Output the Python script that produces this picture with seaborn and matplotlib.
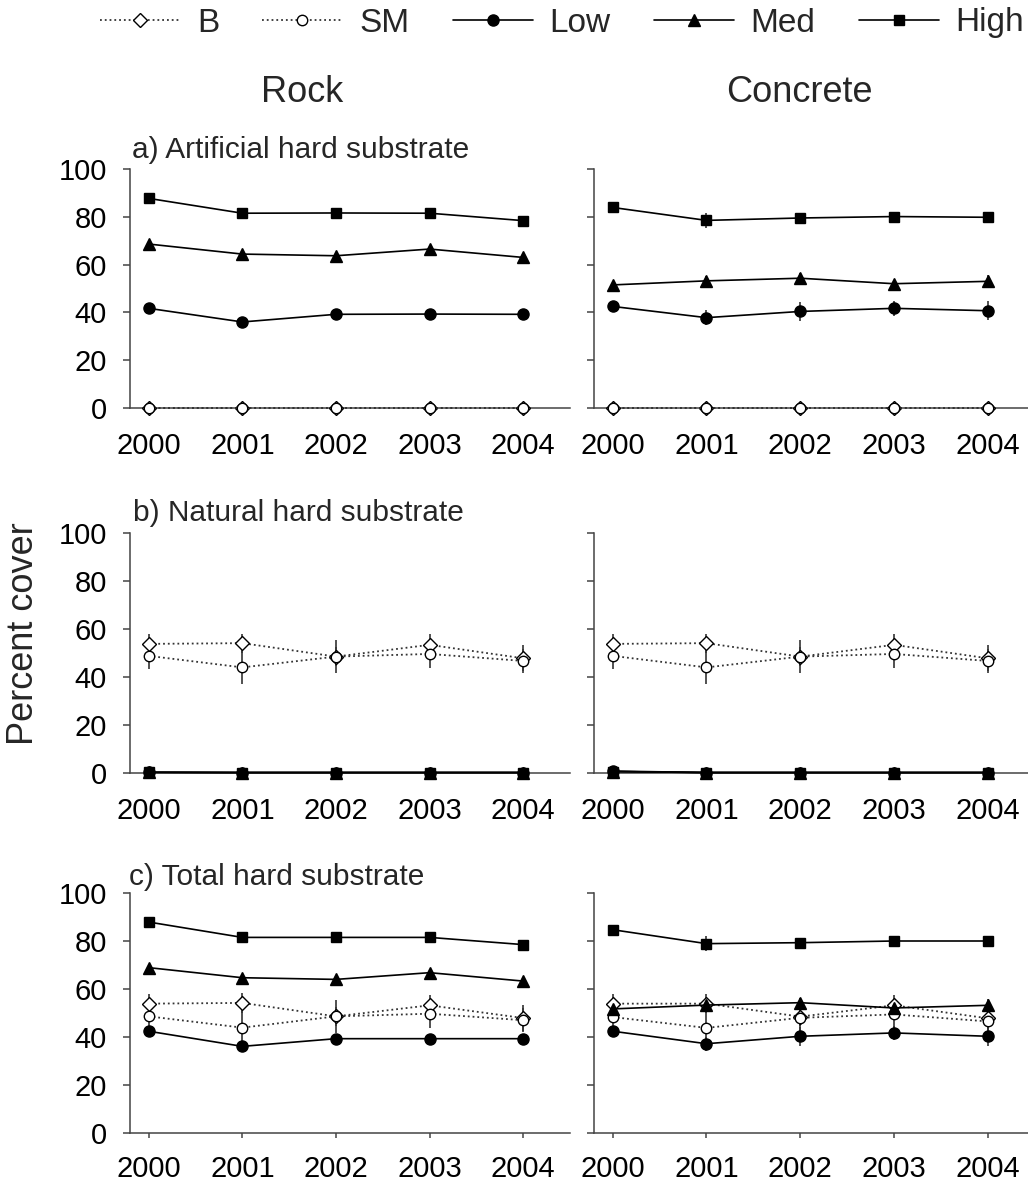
import matplotlib
matplotlib.use("Agg")
import matplotlib.pyplot as plt
import seaborn as sns

# ---- data: mean percent cover (and SE) per year ----
years = [2000, 2001, 2002, 2003, 2004]
series_names = ["B", "SM", "Low", "Med", "High"]

# a) Artificial hard substrate
rock_art_B = [0, 0, 0, 0, 0]
rock_art_SM = [0, 0, 0, 0, 0]
rock_art_Low = [41.7, 36.0, 39.2, 39.3, 39.2]
rock_art_Med = [68.6, 64.4, 63.7, 66.5, 63.0]
rock_art_High = [87.7, 81.5, 81.6, 81.5, 78.4]
rock_art_Low_se = [1.0, 1.0, 1.0, 1.0, 1.0]
rock_art_Med_se = [1.5, 1.2, 1.2, 1.2, 1.5]
rock_art_High_se = [1.0, 1.0, 1.0, 1.0, 1.5]

conc_art_B = [0, 0, 0, 0, 0]
conc_art_SM = [0, 0, 0, 0, 0]
conc_art_Low = [42.5, 37.8, 40.4, 41.7, 40.7]
conc_art_Med = [51.5, 53.2, 54.3, 52.0, 53.0]
conc_art_High = [83.9, 78.5, 79.5, 80.1, 79.8]
conc_art_Low_se = [1.5, 3.0, 4.0, 3.0, 4.0]
conc_art_Med_se = [1.5, 2.0, 2.0, 1.5, 2.5]
conc_art_High_se = [1.2, 3.0, 1.5, 1.5, 1.2]

# b) Natural hard substrate
rock_nat_B = [53.8, 54.1, 48.5, 53.4, 47.8]
rock_nat_SM = [48.8, 44.0, 48.5, 49.6, 46.7]
rock_nat_Low = [0.3, 0.2, 0.2, 0.2, 0.2]
rock_nat_Med = [0.3, 0.2, 0.2, 0.2, 0.2]
rock_nat_High = [0.3, 0.2, 0.2, 0.2, 0.2]
nat_B_se = [4.0, 4.0, 4.0, 4.5, 5.5]
nat_SM_se = [5.5, 7.0, 7.0, 6.0, 5.0]

conc_nat_B = [53.8, 54.1, 48.5, 53.4, 47.8]
conc_nat_SM = [48.8, 44.0, 48.5, 49.6, 46.7]
conc_nat_Low = [0.8, 0.2, 0.2, 0.2, 0.2]
conc_nat_Med = [0.6, 0.2, 0.2, 0.2, 0.2]
conc_nat_High = [0.6, 0.2, 0.2, 0.2, 0.2]

# c) Total hard substrate
rock_tot_B = [53.9, 54.2, 48.6, 53.2, 47.9]
rock_tot_SM = [48.6, 43.9, 48.6, 49.7, 47.0]
rock_tot_Low = [42.4, 36.1, 39.3, 39.3, 39.3]
rock_tot_Med = [68.9, 64.7, 64.0, 66.8, 63.3]
rock_tot_High = [87.9, 81.5, 81.5, 81.5, 78.5]
rock_tot_Low_se = [1.5, 1.5, 1.5, 1.5, 1.5]
rock_tot_Med_se = [1.5, 1.2, 1.2, 1.2, 1.5]
rock_tot_High_se = [1.0, 1.0, 1.0, 1.0, 1.8]

conc_tot_B = [53.9, 53.9, 48.5, 53.2, 47.8]
conc_tot_SM = [48.3, 43.8, 48.0, 49.4, 46.5]
conc_tot_Low = [42.4, 37.2, 40.3, 41.7, 40.3]
conc_tot_Med = [51.7, 53.3, 54.3, 52.1, 53.2]
conc_tot_High = [84.7, 78.9, 79.3, 80.0, 80.0]
conc_tot_Low_se = [2.0, 3.0, 4.0, 3.0, 4.0]
conc_tot_Med_se = [2.0, 3.0, 2.0, 2.5, 2.5]
conc_tot_High_se = [2.0, 3.0, 1.5, 1.5, 1.5]

zero_se = [0, 0, 0, 0, 0]
small_se = [0.3, 0.3, 0.3, 0.3, 0.3]

panels = {
    ("art", "rock"): [(rock_art_B, zero_se), (rock_art_SM, zero_se), (rock_art_Low, rock_art_Low_se),
                      (rock_art_Med, rock_art_Med_se), (rock_art_High, rock_art_High_se)],
    ("art", "conc"): [(conc_art_B, zero_se), (conc_art_SM, zero_se), (conc_art_Low, conc_art_Low_se),
                      (conc_art_Med, conc_art_Med_se), (conc_art_High, conc_art_High_se)],
    ("nat", "rock"): [(rock_nat_B, nat_B_se), (rock_nat_SM, nat_SM_se), (rock_nat_Low, small_se),
                      (rock_nat_Med, small_se), (rock_nat_High, small_se)],
    ("nat", "conc"): [(conc_nat_B, nat_B_se), (conc_nat_SM, nat_SM_se), (conc_nat_Low, small_se),
                      (conc_nat_Med, small_se), (conc_nat_High, small_se)],
    ("tot", "rock"): [(rock_tot_B, nat_B_se), (rock_tot_SM, nat_SM_se), (rock_tot_Low, rock_tot_Low_se),
                      (rock_tot_Med, rock_tot_Med_se), (rock_tot_High, rock_tot_High_se)],
    ("tot", "conc"): [(conc_tot_B, nat_B_se), (conc_tot_SM, nat_SM_se), (conc_tot_Low, conc_tot_Low_se),
                      (conc_tot_Med, conc_tot_Med_se), (conc_tot_High, conc_tot_High_se)],
}

row_keys = ["art", "nat", "tot"]
row_titles = ["a) Artificial hard substrate", "b) Natural hard substrate", "c) Total hard substrate"]
col_keys = ["rock", "conc"]
col_titles = ["Rock", "Concrete"]

# line / marker styles for each treatment
styles = {
    "B":    dict(marker="D", linestyle=":", color="#333333", markerfacecolor="white", markersize=7.0, linewidth=1.3),
    "SM":   dict(marker="o", linestyle=":", color="#333333", markerfacecolor="white", markersize=7.5, linewidth=1.3),
    "Low":  dict(marker="o", linestyle="-", color="black", markerfacecolor="black", markersize=8.0, linewidth=1.2),
    "Med":  dict(marker="^", linestyle="-", color="black", markerfacecolor="black", markersize=8.0, linewidth=1.2),
    "High": dict(marker="s", linestyle="-", color="black", markerfacecolor="black", markersize=7.0, linewidth=1.2),
}

sns.set_style("ticks")
plt.rcParams["font.family"] = ["Liberation Sans", "DejaVu Sans"]
plt.rcParams["axes.edgecolor"] = "#444444"
plt.rcParams["xtick.color"] = "#444444"
plt.rcParams["ytick.color"] = "#444444"
plt.rcParams["xtick.labelcolor"] = "black"
plt.rcParams["ytick.labelcolor"] = "black"

W, H = 1028, 1186
fig = plt.figure(figsize=(W / 100, H / 100), dpi=100)


def fx(px):
    return px / W


def fy(py):
    return 1 - py / H


row_px = [(169, 408), (533, 773), (893, 1133)]
col_px = [(130, 570, 2004.50), (594, 1028, 2004.43)]

axes = {}
for r, (top, bot) in enumerate(row_px):
    for c, (left, right, xmax) in enumerate(col_px):
        ax = fig.add_axes([fx(left), fy(bot), fx(right - left), (bot - top) / H])
        axes[(r, c)] = ax
        series = panels[(row_keys[r], col_keys[c])]
        for name, (vals, se) in zip(series_names, series):
            st = styles[name]
            ax.errorbar(years, vals, yerr=se, fmt="none", ecolor="#333333",
                        elinewidth=1.2, capsize=0, zorder=2, clip_on=False)
            sns.lineplot(x=years, y=vals, ax=ax, legend=False,
                         markeredgecolor="black", markeredgewidth=1.0,
                         clip_on=False, zorder=3, **st)
        ax.set_xlim(1999.8, xmax)
        ax.set_ylim(0, 100)
        ax.set_xticks(years)
        ax.set_xticklabels([str(y) for y in years])
        ax.set_yticks([0, 20, 40, 60, 80, 100])
        ax.set_xlabel("")
        ax.set_ylabel("")
        for s in ["top", "right"]:
            ax.spines[s].set_visible(False)
        for s in ["left", "bottom"]:
            ax.spines[s].set_linewidth(1.1)
        ax.tick_params(axis="y", direction="out", length=5, width=1.1,
                       pad=11.5, labelsize=21, labelleft=(c == 0))
        if r == 2:
            ax.tick_params(axis="x", direction="out", length=3.6, width=1.1,
                           pad=12, labelsize=21)
        else:
            ax.tick_params(axis="x", length=0, pad=17.5, labelsize=21)

# panel labels above each row
label_px = [(132, 150), (133, 513), (129, 877)]
for (lx, ly), txt in zip(label_px, row_titles):
    fig.text(fx(lx), fy(ly), txt, ha="left", va="center", fontsize=21.5)

# substrate column headings
fig.text(fx(302), fy(93), col_titles[0], ha="center", va="center", fontsize=26)
fig.text(fx(799), fy(93), col_titles[1], ha="center", va="center", fontsize=26)

# shared y label
fig.text(fx(24), fy(634), "Percent cover", rotation=90, ha="center", va="center", fontsize=26)

# legend across the top
handles = axes[(0, 0)].lines[:5]
fig.legend(handles, series_names, loc="center", bbox_to_anchor=(fx(562), fy(23)),
           ncol=5, frameon=False, fontsize=24, handlelength=2.4,
           handletextpad=0.5, columnspacing=1.3, borderaxespad=0, borderpad=0)

fig.savefig("out.png", dpi=100)
